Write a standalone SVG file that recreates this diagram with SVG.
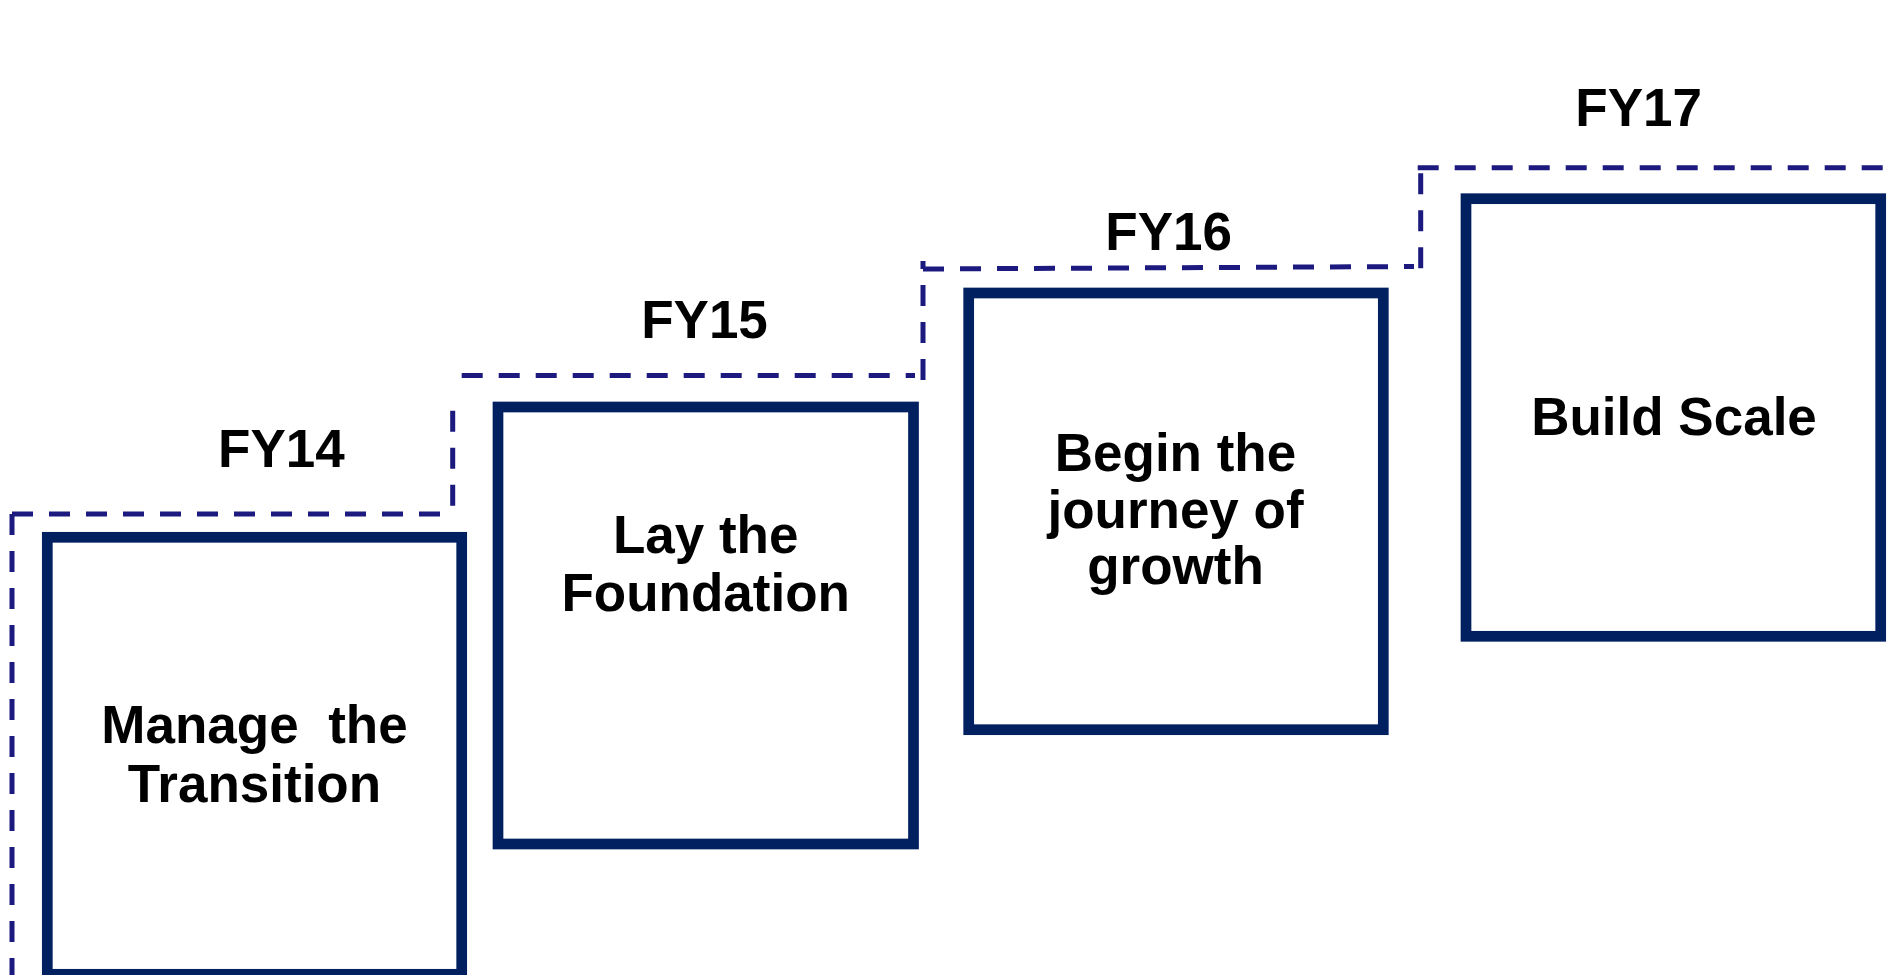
<svg xmlns="http://www.w3.org/2000/svg" width="1898" height="975" viewBox="0 0 1898 975">
  <style>
    .step { fill: #ffffff; stroke: #002060; stroke-width: 10.7; }
    .dash { fill: none; stroke: #1c1a7e; stroke-width: 5; stroke-dasharray: 21 16; }
    .lbl { font-family: "Liberation Sans", Arial, sans-serif; font-weight: bold; font-size: 53px; fill: #000000; text-anchor: middle; }
  </style>
  <rect width="1898" height="975" fill="#ffffff"/>

  <!-- dashed staircase outline -->
  <g id="connectors">
    <path class="dash" d="M12,514 V975"/>
    <path class="dash" d="M12,514 H440"/>
    <path class="dash" d="M452.7,505.7 V410"/>
    <path class="dash" d="M461.7,375.5 H915"/>
    <path class="dash" d="M923,380 V261"/>
    <path class="dash" d="M923,269 L1414,266.5"/>
    <path class="dash" d="M1420.7,268.3 V172"/>
    <path class="dash" d="M1417.7,167.7 H1886"/>
  </g>

  <!-- year labels -->
  <g id="label-fy14"><text class="lbl" x="281.4" y="466.7">FY14</text></g>
  <g id="label-fy15"><text class="lbl" x="704.5" y="338">FY15</text></g>
  <g id="label-fy16"><text class="lbl" x="1168.7" y="250">FY16</text></g>
  <g id="label-fy17"><text class="lbl" x="1638.7" y="125.7">FY17</text></g>

  <!-- stage boxes -->
  <g id="step-fy14">
    <rect class="step" x="47.3" y="537.3" width="414.4" height="437"/>
    <text class="lbl" x="254.5" y="743" xml:space="preserve">Manage  the</text>
    <text class="lbl" x="254.5" y="802">Transition</text>
  </g>
  <g id="step-fy15">
    <rect class="step" x="498" y="407" width="415.5" height="437"/>
    <text class="lbl" x="705.7" y="553">Lay the</text>
    <text class="lbl" x="705.7" y="611">Foundation</text>
  </g>
  <g id="step-fy16">
    <rect class="step" x="968.7" y="293" width="414.6" height="436.7"/>
    <text class="lbl" x="1175.5" y="471">Begin the</text>
    <text class="lbl" x="1175.5" y="528">journey of</text>
    <text class="lbl" x="1175.5" y="584">growth</text>
  </g>
  <g id="step-fy17">
    <rect class="step" x="1466" y="198.7" width="414.7" height="437.6"/>
    <text class="lbl" x="1674" y="434.5">Build Scale</text>
  </g>
</svg>
